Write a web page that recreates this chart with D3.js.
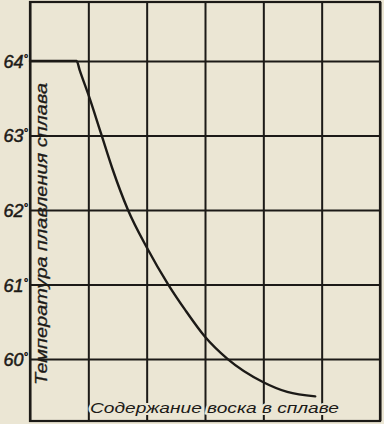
<!DOCTYPE html>
<html>
<head>
<meta charset="utf-8">
<script src="https://cdn.jsdelivr.net/npm/d3@7"></script>
<style>
  body { margin: 0; background: #ebe6d4; }
  svg { display: block; }
</style>
</head>
<body>
<svg width="384" height="424"></svg>
<script>
// wax content (grid columns) and melting temperature of the alloy
var waxContent = [0, 0.8, 0.85, 1.0, 1.22, 1.41, 1.68, 2.0, 2.37, 2.66, 3.0, 3.39, 4.0, 4.41, 4.89]
var meltTemp = [64, 64, 63.88, 63.55, 63.02, 62.56, 62.0, 61.5, 61.0, 60.66, 60.3, 60.0, 59.69, 59.56, 59.5]
var tempTicks = [60, 61, 62, 63, 64]
var columnTicks = [0, 1, 2, 3, 4, 5, 6]
var yTitle = 'Температура плавления сплава'
var xTitle = 'Содержание воска в сплаве'

var ink = '#1c1a17'
var paper = '#ebe6d4'
var font = '"Liberation Sans", Arial, sans-serif'

var svg = d3.select('svg')

var x = d3.scaleLinear().domain([0, 6]).range([30, 380])
var y = d3.scaleLinear().domain([59.17, 64.79]).range([421, 2])

var points = waxContent.map(function (d, i) { return { x: d, t: meltTemp[i] } })

// horizontal grid + temperature labels
var yAxis = svg.append('g')
  .attr('transform', 'translate(30,0)')
  .call(d3.axisLeft(y).tickValues(tempTicks).tickSize(-350).tickPadding(2).tickFormat(function (d) { return d }))
yAxis.select('.domain').remove()
yAxis.selectAll('line').attr('stroke', ink).attr('stroke-width', 2)
yAxis.selectAll('text')
  .attr('fill', ink)
  .attr('stroke', ink)
  .attr('stroke-width', 0.5)
  .style('font-family', font)
  .style('font-style', 'italic')
  .style('font-size', '18px')
  .attr('dy', '0.36em')
  .each(function () {
    d3.select(this).append('tspan').text('°').attr('dy', '-0.55em').style('font-size', '11px')
  })

// vertical grid
var xAxis = svg.append('g')
  .attr('transform', 'translate(0,421)')
  .call(d3.axisBottom(x).tickValues(columnTicks).tickSize(-419).tickFormat(''))
xAxis.select('.domain').remove()
xAxis.selectAll('line').attr('stroke', ink).attr('stroke-width', 2)

// frame
svg.append('rect')
  .attr('x', x(0)).attr('y', y(64.79))
  .attr('width', x(6) - x(0)).attr('height', y(59.17) - y(64.79))
  .attr('fill', 'none').attr('stroke', ink).attr('stroke-width', 2.2)

// curve
var line = d3.line()
  .x(function (d) { return x(d.x) })
  .y(function (d) { return y(d.t) })
  .curve(d3.curveMonotoneX)

svg.append('path')
  .datum(points)
  .attr('d', line)
  .attr('fill', 'none')
  .attr('stroke', ink)
  .attr('stroke-width', 2.4)
  .attr('stroke-linecap', 'round')

// titles
svg.append('text')
  .attr('transform', 'translate(47,234) rotate(-90)')
  .attr('text-anchor', 'middle')
  .attr('textLength', 302)
  .attr('lengthAdjust', 'spacingAndGlyphs')
  .attr('fill', ink)
  .attr('stroke', ink)
  .attr('stroke-width', 0.3)
  .style('font-family', font)
  .style('font-style', 'italic')
  .style('font-size', '16px')
  .text(yTitle)

svg.append('text')
  .attr('x', 90)
  .attr('y', 413)
  .attr('textLength', 249)
  .attr('lengthAdjust', 'spacingAndGlyphs')
  .attr('fill', ink)
  .attr('stroke', paper)
  .attr('stroke-width', 4)
  .attr('paint-order', 'stroke')
  .style('font-family', font)
  .style('font-style', 'italic')
  .style('font-size', '15px')
  .text(xTitle)
</script>
</body>
</html>
